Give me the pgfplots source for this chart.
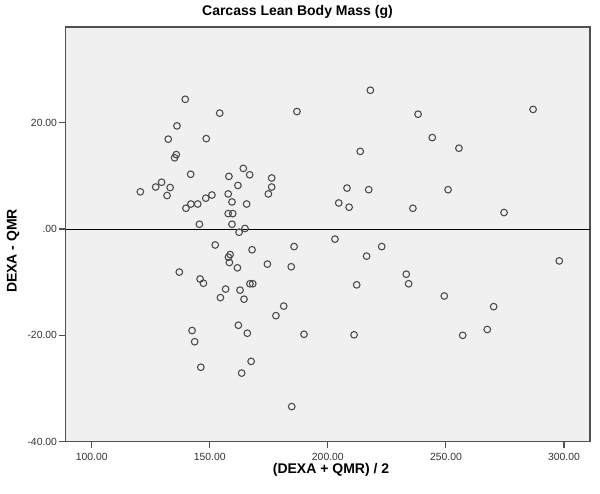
\documentclass[border=0pt]{standalone}
\usepackage{fontspec}
\setmainfont{Liberation Sans}
\usepackage{pgfplots}
\pgfplotsset{compat=1.18}

\definecolor{plotbg}{HTML}{F0F0F0}
\definecolor{frame}{HTML}{505050}
\definecolor{marker}{HTML}{4A4A4A}

\begin{document}
\begin{tikzpicture}
\begin{axis}[
    scale only axis, width=393.2pt, height=311pt,
    xmin=89, xmax=311, ymin=-40, ymax=38,
    axis background/.style={fill=plotbg},
    axis line style={frame, line width=0.8pt},
    xtick={100,150,200,250,300},
    xticklabels={100.00,150.00,200.00,250.00,300.00},
    ytick={-40,-20,0,20},
    yticklabels={-40.00,-20.00,.00,20.00},
    xtick pos=bottom, ytick pos=left,
    tick align=outside, major tick length=5pt,
    tick style={frame, line width=0.8pt},
    tick label style={font=\fontsize{7.8}{9}\selectfont, text=black!80},
    yticklabel style={xshift=2pt},
    clip=false,
]
\addplot[black, line width=0.75pt, forget plot] coordinates {(89,0) (311,0)};
\addplot[only marks, mark=o, mark size=2.5pt, mark options={draw=marker, line width=0.8pt}] coordinates {
(139.6,24.4) (154.2,21.8) (136.1,19.4) (132.4,16.9) (148.5,17.0)
(135.8,14.0) (135.1,13.4) (141.9,10.3) (164.2,11.4) (166.9,10.2)
(158.1,9.9) (161.9,8.2) (129.6,8.8) (127.1,7.9) (133.2,7.8)
(120.6,7.0) (131.9,6.3) (150.9,6.4) (148.3,5.8) (157.8,6.6)
(159.4,5.1) (165.6,4.7) (142.0,4.7) (144.9,4.7) (139.9,3.9)
(157.8,2.9) (159.7,2.9) (145.6,0.9) (159.4,0.9) (164.9,0.1)
(162.4,-0.6) (218.0,26.1) (186.9,22.1) (238.2,21.6) (244.2,17.2)
(213.7,14.6) (176.2,9.6) (176.2,7.9) (174.8,6.6) (208.1,7.7)
(217.3,7.4) (204.6,4.9) (209.0,4.1) (236.0,3.9) (250.9,7.4)
(286.9,22.5) (255.5,15.2) (274.6,3.1) (203.0,-1.9)
(152.3,-3.0) (167.9,-3.9) (158.6,-4.8) (157.9,-5.3) (158.3,-6.3)
(161.7,-7.3) (137.1,-8.1) (145.9,-9.4) (147.3,-10.2) (167.0,-10.3)
(168.2,-10.3) (156.7,-11.3) (162.8,-11.5) (154.5,-12.9) (164.5,-13.2)
(162.1,-18.1) (142.5,-19.1) (165.9,-19.6) (143.6,-21.2) (167.5,-24.9)
(146.2,-26.0) (163.5,-27.1) (185.7,-3.3) (222.8,-3.3) (216.4,-5.1)
(174.4,-6.6) (184.5,-7.1) (233.2,-8.5) (234.2,-10.3) (212.2,-10.5)
(249.3,-12.6) (181.3,-14.5) (178.0,-16.3) (189.9,-19.8) (211.1,-19.9)
(184.7,-33.4) (298.0,-6.0) (270.2,-14.6) (267.5,-18.9) (257.1,-20.0)
};
\node[font=\fontsize{10.5}{12}\selectfont\bfseries, anchor=center, yshift=11pt]
    at (rel axis cs:0.442,1) {Carcass Lean Body Mass (g)};
\node[font=\fontsize{10.5}{12}\selectfont\bfseries, anchor=center, yshift=-21pt]
    at (rel axis cs:0.506,0) {(DEXA + QMR) / 2};
\node[font=\fontsize{10.5}{12}\selectfont\bfseries, anchor=center, rotate=90, xshift=0pt]
    at ([xshift=-39.5pt]rel axis cs:0,0.46) {DEXA - QMR};
\end{axis}
\pgfresetboundingbox
\path (current axis.south west) ++(-49.3pt,-38.5pt) rectangle ++(450pt,369.75pt);
\end{tikzpicture}
\end{document}
